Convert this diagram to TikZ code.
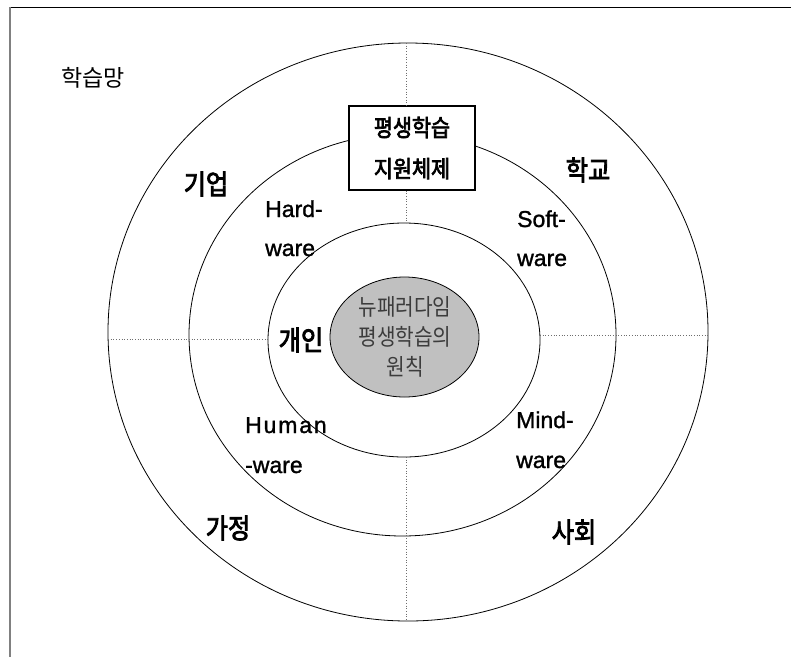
\documentclass[tikz,border=0pt]{standalone}
\usepackage{fontspec}
\setmainfont{Liberation Sans}
\newfontfamily\engf[FakeBold=1.2]{Liberation Sans}
\newfontfamily\kr{Noto Sans CJK KR}
\newfontfamily\krn[FakeStretch=0.88]{Noto Sans CJK KR}
\newfontfamily\krm[FakeStretch=0.88,FakeBold=3]{Noto Sans CJK KR}
\usetikzlibrary{shapes.geometric}
\definecolor{coregray}{RGB}{192,192,192}
\definecolor{coretext}{RGB}{60,60,60}
\definecolor{dotgray}{RGB}{110,110,110}
\begin{document}
\begin{tikzpicture}[x=1pt,y=-1pt,
  ring/.style={draw=black, line width=0.8pt, ellipse, inner sep=0pt, outer sep=0pt},
  dotline/.style={draw=dotgray, line width=0.7pt, dotted},
  bigkr/.style={font=\krm\fontsize{27.5}{30}\selectfont, inner sep=0pt},
  eng/.style={font=\engf\fontsize{23}{26}\selectfont, inner sep=0pt, anchor=base west},
  ]
\useasboundingbox (0,0) rectangle (791,657);
% frame
\draw[line width=1.5pt] (9,7.5) -- (791,7.5);
\draw[gray, line width=2pt] (10,6.75) -- (10,657);
% rings
\node[ring, minimum width=600pt, minimum height=578pt] (outer) at (408,332) {};
\node[ring, minimum width=427pt, minimum height=402pt] (middle) at (402.5,335) {};
\node[ring, minimum width=272pt, minimum height=234pt] (inner) at (404,340) {};
\node[ring, fill=coregray, minimum width=149pt, minimum height=120pt] (core) at (404.5,337) {};
% box
\node[draw, line width=1.2pt, fill=white, minimum width=126pt, minimum height=84pt, inner sep=0pt,
  align=center, font=\krm\fontsize{23.5}{41}\selectfont] (box) at (412,148) {평생학습\\지원체제};
% dotted lines
\coordinate (vx) at (406,0);
\coordinate (hl) at (0,339);
\coordinate (hr) at (0,335.5);
\draw[dotline] (outer.north -| vx) -- (box.north -| vx);
\draw[dotline] (box.south -| vx) -- (inner.north -| vx);
\draw[dotline] (inner.south -| vx) -- (outer.south -| vx);
\draw[dotline] (outer.west |- hl) -- (inner.west |- hl);
\draw[dotline] (inner.east |- hr) -- (outer.east |- hr);
% labels
\node[font=\kr\fontsize{23}{28}\selectfont, inner sep=0pt] (net) at (93,78) {학습망};
\node[bigkr] (corp) at (206,184) {기업};
\node[bigkr] (school) at (588,170) {학교};
\node[bigkr] (home) at (228,528) {가정};
\node[bigkr] (society) at (574,532) {사회};
\node[bigkr] (person) at (301,340) {개인};
\node[font=\krn\fontsize{23}{30}\selectfont, text=coretext, align=center, inner sep=0pt] (coretxt) at (405,337) {뉴패러다임\\평생학습의\\원칙};
\node[eng] (hw1) at (265,217) {Hard-};
\node[eng] (hw2) at (265,256) {ware};
\node[eng] (sw1) at (517,227) {Soft-};
\node[eng] (sw2) at (517,266) {ware};
\node[eng] (hu1) at (245,433) {\addfontfeature{LetterSpace=8}Human};
\node[eng] (hu2) at (245,473) {-ware};
\node[eng] (mw1) at (516,428) {Mind-};
\node[eng] (mw2) at (516,468) {ware};
\end{tikzpicture}
\end{document}
